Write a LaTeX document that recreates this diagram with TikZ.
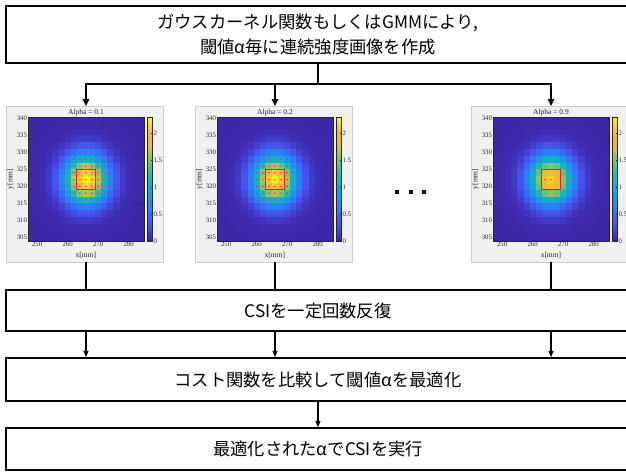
\documentclass[tikz,border=0pt]{standalone}
\usepackage{fontspec}
\setmainfont{Liberation Serif}
\newfontfamily\jpfont{Noto Sans CJK JP}
\usetikzlibrary{arrows.meta}
\definecolor{pc0}{RGB}{62,38,168}
\definecolor{pc1}{RGB}{70,80,235}
\definecolor{pc2}{RGB}{45,125,250}
\definecolor{pc3}{RGB}{20,160,225}
\definecolor{pc4}{RGB}{20,185,180}
\definecolor{pc5}{RGB}{95,195,125}
\definecolor{pc6}{RGB}{215,188,70}
\definecolor{pc7}{RGB}{252,185,50}
\definecolor{pc8}{RGB}{249,250,20}
\definecolor{figbg}{RGB}{240,240,240}
\definecolor{axgray}{RGB}{38,38,38}
\definecolor{redbox}{RGB}{235,30,25}
\definecolor{dotmag}{RGB}{245,0,245}
\newcommand\hmColor[1]{%
  \pgfmathsetmacro\hmT{max(0,min(#1,1))*8}%
  \pgfmathtruncatemacro\hmA{min(floor(\hmT),7)}%
  \pgfmathtruncatemacro\hmB{\hmA+1}%
  \pgfmathtruncatemacro\hmF{round((\hmT-\hmA)*100)}%
  \colorlet{hmcc}{pc\hmB!\hmF!pc\hmA}%
}
\newcommand\heatimg[5]{%
\begin{scope}[shift={(#1,#2)}]
  \fill[figbg] (0,0) rectangle (157,156);
  \begin{scope}
  \clip (0,0) rectangle (157,156);
  \foreach \s in {0,...,61}{
    \hmColor{(\s+0.5)/62}
    \fill[hmcc] (141,{135-2*\s}) rectangle (146,{135-2*\s-2.05});
  }
  \draw[axgray, line width=0.3pt] (141,11) rectangle (146,135);
  \foreach \v in {0,0.5,1,1.5,2}{
    \draw[axgray, line width=0.3pt] (146,{135-\v*53.9}) -- ++(-1,0);
    \node[ticklab, anchor=west] at (146.5,{135-\v*53.9}) {\v};
  }
  \begin{scope}[shift={(22,11)}, x=3.05pt, y=3.4pt, shift={(-247,-340.4)}]
    \begin{scope}
      \clip (247,303.93) rectangle (285,340.4);
      \fill[pc0] (247,303.93) rectangle (285,340.4);
      \foreach \i in {-9,...,9}{
        \foreach \j in {-9,...,9}{
          \hmColor{#4*exp(-((2*(\i))^2+(2*(\j))^2)/52)/2.3}
          \fill[hmcc] ({266+2*\i-1},{322+2*\j-1}) rectangle ({266+2*\i+1.03},{322+2*\j+1.03});
        }}
    \end{scope}
    \foreach \jj/\ia/\ib in {#5}{
      \foreach \ii in {\ia,...,\ib}{
        \fill[dotmag] ({266+2*\ii},{322+2*\jj}) circle[radius=0.8pt];
      }}
    \draw[redbox, line width=1.1pt] (263,319) rectangle (269,325);
    \draw[axgray, line width=0.3pt] (247,303.93) rectangle (285,340.4);
    \foreach \m in {250,260,270,280}{
      \draw[axgray, line width=0.3pt] (\m,303.93) -- ++(0,0.4);
      \draw[axgray, line width=0.3pt] (\m,340.4) -- ++(0,-0.4);
      \node[ticklab, anchor=north] at (\m,303.93) {\m};
    }
    \foreach \m in {305,310,...,340}{
      \draw[axgray, line width=0.3pt] (247,\m) -- ++(0.4,0);
      \draw[axgray, line width=0.3pt] (285,\m) -- ++(-0.4,0);
      \node[ticklab, anchor=east] at (247,\m) {\m};
    }
    \node[plotlab] at (266,341.7) {#3};
    \node[plotlab] at (266,299.6) {x[mm]};
    \node[plotlab, rotate=90] at (241.3,322.2) {y[mm]};
  \end{scope}
  \end{scope}
  \draw[gray!40, line width=0.6pt] (0,0) rectangle (157,156);
\end{scope}}
\begin{document}
\begin{tikzpicture}[x=1pt,y=-1pt,
  ticklab/.style={font=\fontsize{6.8}{7.5}\selectfont, text=axgray, inner sep=0.8pt},
  plotlab/.style={font=\fontsize{7.5}{8.5}\selectfont, text=axgray, inner sep=0pt},
  box/.style={draw, line width=1.5pt, minimum width=624pt, inner sep=0pt,
    font=\jpfont\fontsize{17.3}{25}\selectfont, align=center},
  conn/.style={line width=1.5pt},
  arr/.style={line width=1.5pt, -{Triangle[length=7pt,width=6.5pt]}},
  arrs/.style={line width=1.2pt, -{Triangle[length=6.5pt,width=5pt]}},
  ]
\useasboundingbox (0,0) rectangle (626,471);
\clip (0,0) rectangle (626,471);
\fill[white] (0,0) rectangle (626,471);

\node[box, minimum height=57pt] (top) at (318,34.5) {ガウスカーネル関数もしくはGMMにより,\\閾値α毎に連続強度画像を作成};

\heatimg{6}{106}{Alpha = 0.1}{2.3}{-4/-1/1,-3/-3/3,-2/-4/4,-1/-4/4,0/-4/4,1/-4/4,2/-4/4,3/-3/3,4/-1/1}
\heatimg{195}{106}{Alpha = 0.2}{2.25}{-3/-2/2,-2/-3/3,-1/-3/3,0/-4/4,1/-3/3,2/-3/3,3/-2/2}
\heatimg{471}{106}{Alpha = 0.9}{2.12}{0/-1/0}

\foreach \x in {397,411,424}{\fill (\x-2,190) rectangle (\x+2,194);}

\coordinate (j) at (318,84);
\coordinate (t1) at (86,106);
\coordinate (t2) at (275,106);
\coordinate (t3) at (551,106);
\coordinate (b1) at (86,262);
\coordinate (b2) at (275,262);
\coordinate (b3) at (551,262);

\draw[conn] (top.south) -- (j);
\draw[arr] (j) -| (t1);
\draw[arr] (j) -| (t2);
\draw[arr] (j) -| (t3);

\node[box, minimum height=41pt] (csi) at (318,310.5) {CSIを一定回数反復};
\node[box, minimum height=43pt] (cost) at (318,379.5) {コスト関数を比較して閾値αを最適化};
\node[box, minimum height=42pt] (run) at (318,449) {最適化されたαでCSIを実行};

\foreach \b in {b1,b2,b3}{
  \draw[line width=1.2pt] (\b) -- (\b |- csi.north);
  \draw[arrs] (\b |- csi.south) -- (\b |- cost.north);
}
\draw[arrs] (cost.south) -- (run.north);
\end{tikzpicture}
\end{document}
